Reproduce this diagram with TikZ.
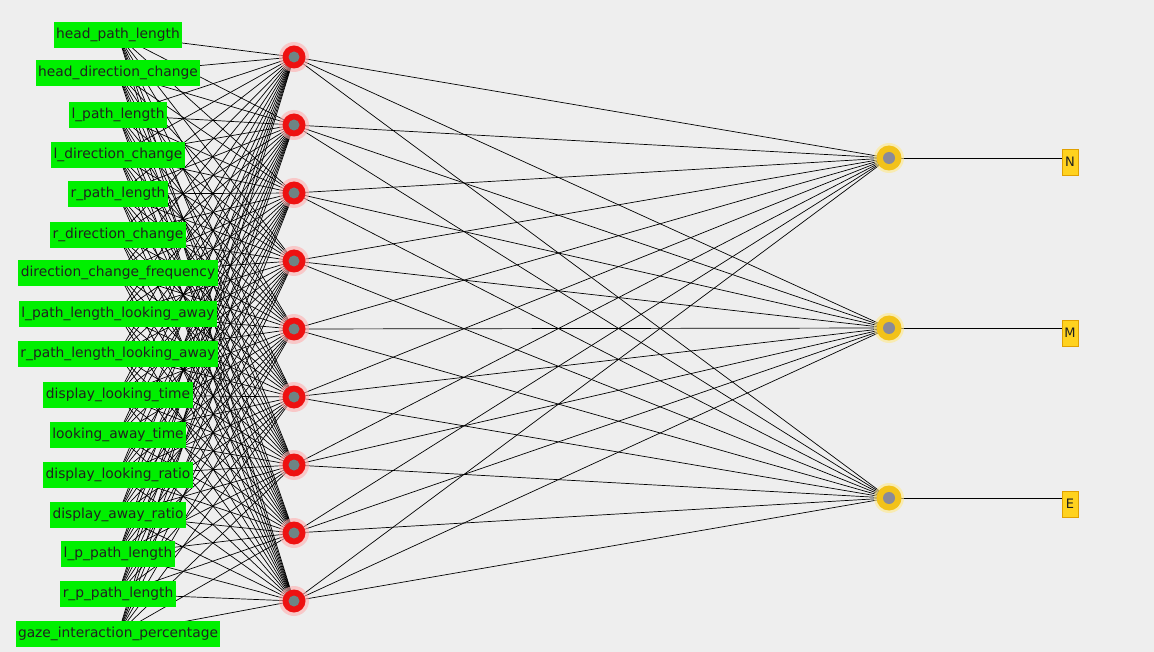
\documentclass[tikz,border=0pt]{standalone}
\usepackage{fontspec}
\setmainfont{DejaVu Sans}
\definecolor{bg}{HTML}{EEEEEE}
\definecolor{lblgreen}{HTML}{00F000}
\definecolor{hidred}{HTML}{EE1111}
\definecolor{hidhalo}{HTML}{FFB0B0}
\definecolor{hidcore}{HTML}{6E8484}
\definecolor{outyel}{HTML}{F2C21A}
\definecolor{outhalo}{HTML}{FFE98A}
\definecolor{outcore}{HTML}{8A8A9A}
\definecolor{clsyel}{HTML}{FFD21F}
\definecolor{clsedge}{HTML}{E0A000}
\definecolor{txt}{HTML}{202020}
\begin{document}
\begin{tikzpicture}[x=1pt,y=-1pt,
  conn/.style={black, line width=0.7pt},
  inlab/.style={fill=lblgreen, text=txt, font=\fontsize{13.8}{15}\selectfont,
    inner xsep=2.5pt, inner ysep=0pt, minimum height=26pt},
  hid/.style={circle, fill=hidred, minimum size=23pt, inner sep=0pt},
  hidin/.style={circle, fill=hidcore, minimum size=11pt, inner sep=0pt},
  halo/.style={circle, fill=#1, opacity=0.6, minimum size=30pt, inner sep=0pt},
  outn/.style={circle, fill=outyel, minimum size=25pt, inner sep=0pt},
  outin/.style={circle, fill=outcore, minimum size=12pt, inner sep=0pt},
  clslab/.style={fill=clsyel, draw=clsedge, line width=0.8pt, text=txt,
    font=\fontsize{13}{14}\selectfont, minimum width=16pt, minimum height=26pt, inner sep=0pt}
]
\fill[bg] (0,0) rectangle (1154,652);
\useasboundingbox (0,0) rectangle (1154,652);

% input anchor coordinates
\foreach \n/\y in {1/35,2/73,3/115,4/155,5/194,6/235,7/273,8/314,9/354,10/395,11/435,12/475,13/515,14/554,15/594,16/634}
  \coordinate (i\n) at (118,\y);

% hidden node centres
\foreach \k in {1,...,9}
  \coordinate (hc\k) at (294,{57+68*(\k-1)});
% output node centres
\coordinate (oc1) at (889,158);
\coordinate (oc2) at (889,328);
\coordinate (oc3) at (889,498);

% input -> hidden connectors
\foreach \n in {1,...,16}
  \foreach \k in {1,...,9}
    \draw[conn] (i\n) -- (hc\k);
% hidden -> output connectors
\foreach \k in {1,...,9}
  \foreach \m in {1,2,3}
    \draw[conn] (hc\k) -- (oc\m);

% class labels
\node[clslab] (c1) at (1070,162) {N};
\node[clslab] (c2) at (1070,333) {M};
\node[clslab] (c3) at (1070,504) {E};
\draw[conn, line width=0.9pt] (oc1) -- (c1.west |- oc1);
\draw[conn, line width=0.9pt] (oc2) -- (c2.west |- oc2);
\draw[conn, line width=0.9pt] (oc3) -- (c3.west |- oc3);

% hidden node drawings
\foreach \k in {1,...,9} {
  \node[halo=hidhalo] at (hc\k) {};
  \node[hid] (h\k) at (hc\k) {};
  \node[hidin] at (hc\k) {};
}
% output node drawings
\foreach \m in {1,2,3} {
  \node[halo=outhalo] at (oc\m) {};
  \node[outn] (o\m) at (oc\m) {};
  \node[outin] at (oc\m) {};
}

% input labels
\foreach \n/\t in {1/head\_path\_length, 2/head\_direction\_change, 3/l\_path\_length,
  4/l\_direction\_change, 5/r\_path\_length, 6/r\_direction\_change,
  7/direction\_change\_frequency, 8/l\_path\_length\_looking\_away,
  9/r\_path\_length\_looking\_away, 10/display\_looking\_time,
  11/looking\_away\_time, 12/display\_looking\_ratio, 13/display\_away\_ratio,
  14/l\_p\_path\_length, 15/r\_p\_path\_length, 16/gaze\_interaction\_percentage}
  \node[inlab] (l\n) at (i\n) {\t};
\end{tikzpicture}
\end{document}
